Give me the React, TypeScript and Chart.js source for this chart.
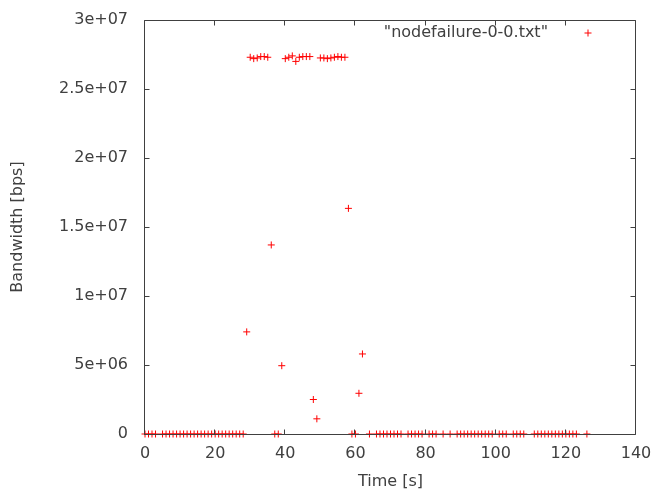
import React, { useEffect, useRef } from 'react';
import { Chart, registerables } from 'chart.js';

Chart.register(...registerables);

// ---- data ----
const timeSeconds: number[] = [
  0, 1, 2, 3, 5, 6, 7, 8, 9, 10, 11, 12, 13, 14, 15, 16, 17, 18, 19, 20, 21, 22, 23, 24, 25, 26, 27, 28,
  29, 30, 31, 32, 33, 34, 35, 36, 37, 38, 39, 40, 41, 42, 43, 44, 45, 46, 47, 48, 49, 50, 51, 52, 53, 54,
  55, 56, 57, 58, 59, 60, 61, 62,
  64, 66, 67, 68, 69, 70, 71, 72, 73, 75, 76, 77, 78, 79, 81, 82, 83, 85, 87, 89, 90, 91, 92, 93, 94, 95,
  96, 97, 98, 99, 101, 102, 103, 105, 106, 107, 108, 111, 112, 113, 114, 115, 116, 117, 118, 119, 120,
  121, 122, 123, 126,
];

const bandwidthBps: number[] = [
  0, 0, 0, 0, 0, 0, 0, 0, 0, 0, 0, 0, 0, 0, 0, 0, 0, 0, 0, 0, 0, 0, 0, 0, 0, 0, 0, 0,
  7.4e6, 27.3e6, 27.2e6, 27.25e6, 27.35e6, 27.35e6, 27.3e6, 13.7e6, 0, 0, 4.95e6, 27.2e6, 27.3e6, 27.4e6,
  27.0e6, 27.3e6, 27.35e6, 27.35e6, 27.35e6, 2.5e6, 1.1e6, 27.25e6, 27.25e6, 27.2e6, 27.25e6, 27.3e6,
  27.35e6, 27.3e6, 27.3e6, 16.35e6, 0, 0, 2.95e6, 5.8e6,
  0, 0, 0, 0, 0, 0, 0, 0, 0, 0, 0, 0, 0, 0, 0, 0, 0, 0, 0, 0, 0, 0, 0, 0, 0, 0,
  0, 0, 0, 0, 0, 0, 0, 0, 0, 0, 0, 0, 0, 0, 0, 0, 0, 0, 0, 0,
  0, 0, 0, 0, 0,
];

const xTickValues: number[] = [0, 20, 40, 60, 80, 100, 120, 140];
const xTickLabels: string[] = ['0', '20', '40', '60', '80', '100', '120', '140'];
const yTickValues: number[] = [0, 5e6, 1e7, 1.5e7, 2e7, 2.5e7, 3e7];
const yTickLabels: string[] = ['0', '5e+06', '1e+07', '1.5e+07', '2e+07', '2.5e+07', '3e+07'];

const xAxisTitle = 'Time [s]';
const yAxisTitle = 'Bandwidth [bps]';
const seriesLabel = '"nodefailure-0-0.txt"';

// ---- styles ----
const FONT_FAMILY = '"DejaVu Sans", sans-serif';
const FONT_SIZE = 16;
const TEXT_COLOR = '#404040';
const AXIS_COLOR = '#404040';
const POINT_COLOR = '#ff0000';
const TICK_LEN = 5;

const framePlugin = {
  id: 'gnuplotFrame',
  afterDatasetsDraw(chart: any) {
    const { ctx, chartArea } = chart;
    const xs = chart.scales.x;
    const ys = chart.scales.y;
    const l = Math.floor(chartArea.left) - 0.5;
    const r = Math.floor(chartArea.right) - 0.5;
    const t = Math.floor(chartArea.top) + 0.5;
    const b = Math.floor(chartArea.bottom) + 0.5;
    ctx.save();
    ctx.strokeStyle = AXIS_COLOR;
    ctx.lineWidth = 1;
    ctx.beginPath();
    ctx.rect(l, t, r - l, b - t);
    xTickValues.forEach((v) => {
      const px = Math.round(xs.getPixelForValue(v)) - 0.5;
      ctx.moveTo(px, b);
      ctx.lineTo(px, b - TICK_LEN);
      ctx.moveTo(px, t);
      ctx.lineTo(px, t + TICK_LEN);
    });
    yTickValues.forEach((v) => {
      const py = Math.round(ys.getPixelForValue(v)) + 0.5;
      ctx.moveTo(l, py);
      ctx.lineTo(l + TICK_LEN, py);
      ctx.moveTo(r, py);
      ctx.lineTo(r - TICK_LEN, py);
    });
    ctx.stroke();

    // key (legend) in the upper right, gnuplot style
    const ky = chartArea.top + 13;
    const markerX = chartArea.right - 48;
    const textRight = chartArea.right - 88;
    ctx.fillStyle = TEXT_COLOR;
    ctx.font = `${FONT_SIZE}px ${FONT_FAMILY}`;
    ctx.textAlign = 'right';
    ctx.textBaseline = 'middle';
    ctx.fillText(seriesLabel, textRight, ky);
    ctx.strokeStyle = POINT_COLOR;
    ctx.beginPath();
    ctx.moveTo(markerX - 3.5, ky);
    ctx.lineTo(markerX + 3.5, ky);
    ctx.moveTo(markerX, ky - 3.5);
    ctx.lineTo(markerX, ky + 3.5);
    ctx.stroke();
    ctx.restore();
  },
};

export default function App() {
  const canvasRef = useRef<HTMLCanvasElement | null>(null);

  useEffect(() => {
    if (!canvasRef.current) return;
    const points = timeSeconds.map((t, i) => ({ x: t, y: bandwidthBps[i] }));
    const chart = new Chart(canvasRef.current, {
      type: 'scatter',
      data: {
        datasets: [
          {
            label: seriesLabel,
            data: points,
            pointStyle: 'cross',
            pointRadius: 3.5,
            pointHoverRadius: 3.5,
            pointBorderWidth: 1,
            borderColor: POINT_COLOR,
            backgroundColor: POINT_COLOR,
            clip: false as any,
          },
        ],
      },
      options: {
        responsive: false,
        animation: false,
        devicePixelRatio: 1,
        layout: { padding: { top: 20, right: 16, left: 0, bottom: 0 } },
        plugins: {
          legend: { display: false },
          tooltip: { enabled: false },
        },
        scales: {
          x: {
            type: 'linear',
            min: 0,
            max: 140,
            afterBuildTicks: (scale: any) => {
              scale.ticks = xTickValues.map((v) => ({ value: v }));
            },
            afterFit: (scale: any) => {
              scale.height = 57;
              scale.paddingLeft = 0;
              scale.paddingRight = 0;
              scale.paddingTop = 0;
              scale.paddingBottom = 0;
            },
            grid: { display: false, drawTicks: false },
            border: { display: false },
            ticks: {
              autoSkip: false,
              maxRotation: 0,
              padding: 10,
              color: TEXT_COLOR,
              font: { family: FONT_FAMILY, size: FONT_SIZE },
              callback: (value: any) => {
                const i = xTickValues.indexOf(Number(value));
                return i >= 0 ? xTickLabels[i] : '';
              },
            },
            title: {
              display: true,
              text: xAxisTitle,
              color: TEXT_COLOR,
              font: { family: FONT_FAMILY, size: FONT_SIZE },
              padding: { top: 0, bottom: 0 },
            },
          },
          y: {
            type: 'linear',
            min: 0,
            max: 3e7,
            afterBuildTicks: (scale: any) => {
              scale.ticks = yTickValues.map((v) => ({ value: v }));
            },
            afterFit: (scale: any) => {
              scale.width = 145;
              scale.paddingLeft = 0;
              scale.paddingRight = 0;
              scale.paddingTop = 0;
              scale.paddingBottom = 0;
            },
            grid: { display: false, drawTicks: false },
            border: { display: false },
            ticks: {
              autoSkip: false,
              padding: 17,
              color: TEXT_COLOR,
              font: { family: FONT_FAMILY, size: FONT_SIZE },
              callback: (value: any) => {
                const i = yTickValues.indexOf(Number(value));
                return i >= 0 ? yTickLabels[i] : '';
              },
            },
            title: {
              display: true,
              text: yAxisTitle,
              color: TEXT_COLOR,
              font: { family: FONT_FAMILY, size: FONT_SIZE },
              padding: { top: 8, bottom: 0 },
            },
          },
        },
      },
      plugins: [framePlugin],
    });
    return () => chart.destroy();
  }, []);

  return (
    <div style={{ position: 'fixed', left: 0, top: 0, width: 652, height: 491, background: '#fff' }}>
      <canvas ref={canvasRef} width={652} height={491} />
    </div>
  );
}
